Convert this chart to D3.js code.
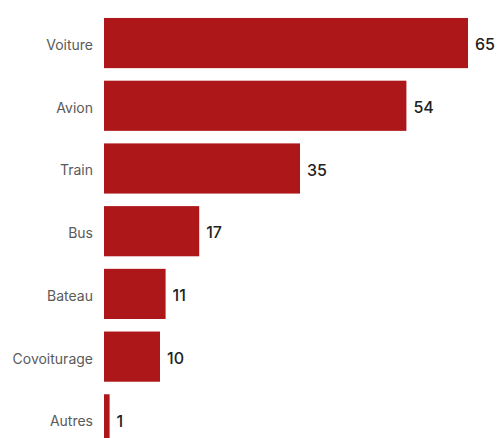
<!DOCTYPE html>
<html>
<head>
<meta charset="utf-8">
<script src="https://cdn.jsdelivr.net/npm/d3@7"></script>
<style>
  body { margin: 0; background: #fff; }
</style>
</head>
<body>
<svg></svg>
<script>
const categories = ["Voiture", "Avion", "Train", "Bus", "Bateau", "Covoiturage", "Autres"];
const values = [65, 54, 35, 17, 11, 10, 1];

let width = 498;
let height = 438;

let data = categories.map((c, i) => ({ name: c, value: values[i] }));

let svg = d3.select("svg").attr("width", width).attr("height", height);

let x = d3.scaleLinear().domain([0, 65]).range([104, 468]);

let y = d3
  .scaleBand()
  .domain(categories)
  .range([11.7, 450.7])
  .paddingInner(0.2)
  .paddingOuter(0.1);

svg
  .append("g")
  .selectAll(".bar")
  .data(data)
  .join("rect")
  .attr("class", "bar")
  .attr("x", x(0))
  .attr("y", (d) => y(d.name))
  .attr("width", (d) => x(d.value) - x(0))
  .attr("height", y.bandwidth())
  .style("fill", "#ae1719");

// category names, left of the bars
svg
  .append("g")
  .selectAll(".cat")
  .data(data)
  .join("text")
  .attr("class", "cat")
  .attr("x", x(0) - 11)
  .attr("y", (d) => y(d.name) + y.bandwidth() / 2)
  .attr("dy", "0.5em")
  .attr("text-anchor", "end")
  .style("font-family", "Inter, sans-serif")
  .style("font-size", "14px")
  .style("fill", "#5a5a5a")
  .text((d) => d.name);

// values at the end of each bar
svg
  .append("g")
  .selectAll(".val")
  .data(data)
  .join("text")
  .attr("class", "val")
  .attr("x", (d) => x(d.value) + 7)
  .attr("y", (d) => y(d.name) + y.bandwidth() / 2)
  .attr("dy", "0.45em")
  .style("font-family", "Inter, sans-serif")
  .style("font-size", "16px")
  .style("font-weight", "500")
  .style("fill", "#222")
  .text((d) => d.value);
</script>
</body>
</html>
